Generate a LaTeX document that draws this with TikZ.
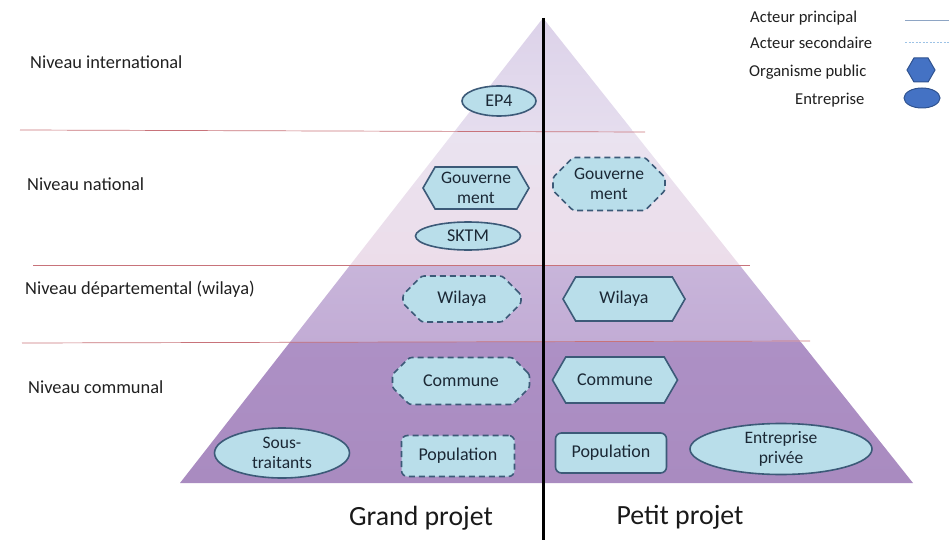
\documentclass[tikz,border=0pt]{standalone}
\usepackage{fontspec}
\setmainfont{Carlito}
\usetikzlibrary{shapes.geometric,shapes.symbols,shapes.misc}
\definecolor{nodefill}{HTML}{B9DEEA}
\definecolor{nodeline}{HTML}{3C5A78}
\definecolor{nodetext}{HTML}{1B2835}
\definecolor{labeltext}{HTML}{202020}
\definecolor{levelline}{HTML}{C8737A}
\definecolor{bandAtop}{HTML}{DCD2E9}
\definecolor{bandAbot}{HTML}{E5DDEE}
\definecolor{bandBtop}{HTML}{EAE3F0}
\definecolor{bandBbot}{HTML}{ECDDEA}
\definecolor{bandCtop}{HTML}{C8B5DA}
\definecolor{bandCbot}{HTML}{C2ACD5}
\definecolor{bandDtop}{HTML}{AD90C5}
\definecolor{bandDbot}{HTML}{A98BC0}
\definecolor{legfill}{HTML}{4472C4}
\definecolor{legline}{HTML}{2F528F}
\definecolor{legsolid}{HTML}{8EA5C4}
\definecolor{legdash}{HTML}{9DC3E6}
\begin{document}
\begin{tikzpicture}[x=1pt,y=-1pt,
  basenode/.style={fill=nodefill, draw=nodeline, line width=1.6pt, text=nodetext,
    font=\fontsize{18}{20}\selectfont, inner sep=0pt, align=center},
  twoline/.style={font=\fontsize{17.5}{19.5}\selectfont},
  entnode/.style={basenode, ellipse},
  orgnode/.style={basenode, signal, signal to=west and east, signal pointer angle=120},
  orgdash/.style={basenode, chamfered rectangle, chamfered rectangle xsep=9pt,
    chamfered rectangle ysep=11pt, rounded corners=2.5pt, dash pattern=on 6pt off 4pt},
  popsolid/.style={basenode, rectangle, rounded corners=6pt},
  popdash/.style={popsolid, dash pattern=on 6pt off 4pt},
  levellabel/.style={anchor=west, text=labeltext, font=\fontsize{18.4}{21}\selectfont, inner sep=0pt},
  leglabel/.style={anchor=west, text=labeltext, font=\fontsize{16.6}{19}\selectfont, inner sep=0pt},
  biglabel/.style={text=black!90, font=\fontsize{27.8}{31}\selectfont, inner sep=0pt},
  levelrule/.style={draw=levelline, line width=0.7pt}
]
\useasboundingbox (0,0) rectangle (949,540);

% pyramid bands
\shade[top color=bandAtop, bottom color=bandAbot] (543,18) -- (632.9,131) -- (454.8,131) -- cycle;
\shade[top color=bandBtop, bottom color=bandBbot] (454.8,131) -- (632.9,131) -- (739.5,265) -- (350.2,265) -- cycle;
\shade[top color=bandCtop, bottom color=bandCbot] (350.2,265) -- (739.5,265) -- (800.8,342) -- (290.1,342) -- cycle;
\shade[top color=bandDtop, bottom color=bandDbot] (290.1,342) -- (800.8,342) -- (913,483) -- (180,483) -- cycle;

% level rules
\draw[levelrule] (20,130) -- (645,132);
\draw[levelrule] (33,265) -- (750,265);
\draw[levelrule] (22,343) -- (810,341);

% central axis
\draw[line width=3pt, black] (543,18) -- (543,540);

% level labels
\node[levellabel] (lint) at (30,62) {Niveau international};
\node[levellabel] (lnat) at (27,184) {Niveau national};
\node[levellabel] (ldep) at (25,289) {Niveau départemental (wilaya)};
\node[levellabel] (lcom) at (28,387) {Niveau communal};

% nodes
\node[entnode, minimum width=74pt, minimum height=30pt] (ep4) at (499,101) {EP4};
\node[orgnode, twoline, minimum width=106pt, minimum height=42pt] (gouvL) at (476,188) {Gouverne\\ment};
\node[entnode, minimum width=105pt, minimum height=28pt] (sktm) at (468,236) {SKTM};
\node[orgdash, twoline, minimum width=112pt, minimum height=42pt] (gouvR) at (609,184) {Gouverne\\ment};
\node[orgdash, minimum width=118pt, minimum height=46pt] (wilL) at (462,299) {Wilaya};
\node[orgnode, minimum width=122pt, minimum height=44pt] (wilR) at (624,299) {Wilaya};
\node[orgdash, minimum width=137pt, minimum height=47pt] (comL) at (461,381) {Commune};
\node[orgnode, minimum width=125pt, minimum height=46pt] (comR) at (615,380) {Commune};
\node[entnode, twoline, minimum width=135pt, minimum height=50pt] (sous) at (282,453) {Sous-\\traitants};
\node[popdash, minimum width=113pt, minimum height=41pt] (popL) at (458,456) {Population};
\node[popsolid, minimum width=111pt, minimum height=40pt] (popR) at (611,453) {Population};
\node[entnode, twoline, minimum width=182pt, minimum height=51pt] (entr) at (781,449) {Entreprise\\privée};

% bottom labels
\node[biglabel] (grand) at (421,518) {Grand projet};
\node[biglabel] (petit) at (680,517) {Petit projet};

% legend
\node[leglabel] (lgA) at (750,18) {Acteur principal};
\node[leglabel] (lgB) at (750,43) {Acteur secondaire};
\node[leglabel] (lgC) at (749,72) {Organisme public};
\node[leglabel] (lgD) at (795,100) {Entreprise};
\coordinate (lsA1) at (905,20);
\coordinate (lsA2) at (949,20);
\coordinate (lsB1) at (905,42);
\coordinate (lsB2) at (949,42);
\draw[legsolid, line width=0.9pt] (lsA1) -- (lsA2);
\draw[legdash, line width=0.9pt, dash pattern=on 2pt off 1.5pt] (lsB1) -- (lsB2);
\node[signal, signal to=west and east, signal pointer angle=120, fill=legfill, draw=legline,
  line width=1pt, minimum width=28pt, minimum height=24pt, inner sep=0pt] (lgHex) at (921,70) {};
\node[ellipse, fill=legfill, draw=legline, line width=1pt, minimum width=36pt,
  minimum height=20pt, inner sep=0pt] (lgEll) at (922,98) {};
\end{tikzpicture}
\end{document}
